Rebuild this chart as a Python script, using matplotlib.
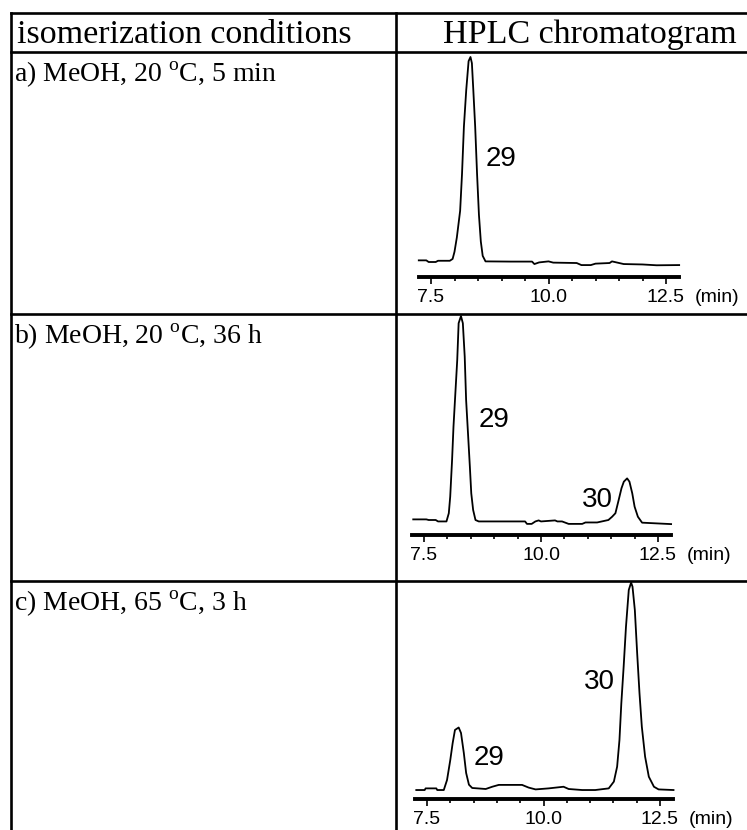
import matplotlib.pyplot as plt
from matplotlib.lines import Line2D
from matplotlib.ticker import FixedLocator, MultipleLocator, FormatStrFormatter

plt.rcParams['font.family'] = ['Liberation Serif', 'DejaVu Serif']
plt.rcParams['mathtext.fontset'] = 'custom'
plt.rcParams['mathtext.rm'] = 'Liberation Serif'

# figure size in pixels (dpi 100)
W, H = 747, 830

# table texts
header = ['isomerization conditions', 'HPLC chromatogram']
conditions = [r'a) MeOH, 20 $^{\rm o}$C, 5 min',
              r'b) MeOH, 20 $^{\rm o}$C, 36 h',
              r'c) MeOH, 65 $^{\rm o}$C, 3 h']

# chromatogram traces (retention time in min, relative signal)
time_a = [7.24, 7.40, 7.45, 7.60, 7.65, 7.90, 7.96, 8.00, 8.05, 8.12, 8.16, 8.20,
          8.25, 8.30, 8.34, 8.37, 8.40, 8.44, 8.48, 8.52, 8.56, 8.60, 8.66, 9.20,
          9.65, 9.70, 9.80, 10.00, 10.10, 10.60, 10.70, 10.90, 11.00, 11.30, 11.35,
          11.60, 12.00, 12.30, 12.78]
signal_a = [0.8, 0.8, 0.0, 0.0, 0.6, 0.6, 1.5, 5, 12, 25, 43, 66,
            84, 98, 100, 97, 84, 66, 43, 23, 10, 3, 0.3, 0.2,
            0.2, -1.0, -0.2, 0.3, -0.3, -0.5, -1.5, -1.5, -0.8, -0.5, 0.3,
            -1.0, -1.2, -1.6, -1.5]

time_b = [7.27, 7.55, 7.60, 7.75, 7.80, 7.98, 8.03, 8.06, 8.10, 8.13, 8.17, 8.21,
          8.24, 8.29, 8.33, 8.37, 8.40, 8.44, 8.48, 8.51, 8.55, 8.60, 8.67, 9.66,
          9.70, 9.80, 9.88, 9.95, 10.00, 10.30, 10.35, 10.45, 10.59, 10.88, 10.95,
          11.20, 11.44, 11.52, 11.59, 11.66, 11.72, 11.77, 11.84, 11.89, 11.95,
          12.00, 12.07, 12.16, 12.78]
signal_b = [0.3, 0.3, 0.0, 0.0, -0.7, -0.7, 3.3, 11.4, 29.3, 45.5, 61.8, 78,
            96, 99.5, 96, 79.7, 58.5, 42.3, 26, 13, 4.9, 0.0, -0.7, -0.7,
            -1.9, -1.9, -0.7, -0.2, -0.7, -0.2, -0.7, -0.7, -1.9, -1.9, -1.2,
            -1.2, 0.0, 1.6, 3.3, 9.8, 15.5, 18.7, 20.3, 18.7, 13,
            6.5, 1.6, -1.3, -2.0]

time_c = [7.27, 7.45, 7.47, 7.70, 7.72, 7.86, 7.93, 8.00, 8.05, 8.10, 8.18, 8.23,
          8.29, 8.34, 8.40, 8.47, 8.76, 8.90, 9.04, 9.54, 9.68, 9.83, 10.11, 10.43,
          10.54, 10.83, 11.11, 11.40, 11.51, 11.58, 11.63, 11.67, 11.72, 11.77,
          11.83, 11.88, 11.91, 11.96, 12.01, 12.06, 12.11, 12.18, 12.26, 12.37,
          12.47, 12.79]
signal_c = [-0.5, -0.5, 0.3, 0.3, -0.5, -0.5, 4.4, 14.2, 22.3, 28.8, 30, 27.3,
            17.6, 7.8, 2.1, 0.5, 0.0, 1.1, 2.0, 2.0, 0.7, -0.2, 0.3, 1.1,
            0.0, -0.5, -0.5, 0.3, 3.6, 10.9, 23.9, 41.8, 59.7, 79.2,
            97.1, 100.7, 98.7, 87.3, 66.2, 46.7, 30.4, 15.8, 6.0, 1.1,
            -0.2, -0.5]

traces = [(time_a, signal_a), (time_b, signal_b), (time_c, signal_c)]

# peak labels: (text, time, signal)
peak_labels = [
    [('29', 8.99, 50)],
    [('29', 9.00, 49), ('30', 11.20, 10)],
    [('30', 11.21, 52), ('29', 8.83, 15)],
]

major_ticks = [7.5, 10.0, 12.5]
x_range = (7.25, 12.78)

# layout in pixels, measured from the top-left corner
table_left, table_top = 11, 13
col_split = 396
row_lines = [52, 314, 581]
panel_x75 = [431, 424, 427]        # pixel of the 7.5 min tick
panel_ppm = [47.0, 46.8, 46.6]     # pixels per minute
panel_axis_y = [277, 535, 799]     # axis line
panel_base_y = [262, 520, 789]     # signal baseline
ppu = 2.05                         # pixels per signal unit


def fx(px):
    return px / W


def fy(py):
    return 1 - py / H


fig = plt.figure(figsize=(W / 100, H / 100), dpi=100)

# table grid
lw = 1.9
for y in [table_top] + row_lines:
    fig.add_artist(Line2D([fx(table_left), 1], [fy(y), fy(y)], color='black', lw=lw))
for x in [table_left, col_split]:
    fig.add_artist(Line2D([fx(x), fx(x)], [fy(table_top), 0], color='black', lw=lw))

# header and condition texts
fig.text(fx(17), fy(43), header[0], fontsize=24.5, va='baseline', ha='left')
fig.text(fx(590), fy(43), header[1], fontsize=24.5, va='baseline', ha='center')
for i, txt in enumerate(conditions):
    fig.text(fx(14), fy(row_lines[i] + 30), txt, fontsize=20, va='baseline', ha='left')

# chromatograms
for i, (t, s) in enumerate(traces):
    left = panel_x75[i] - (major_ticks[0] - x_range[0]) * panel_ppm[i]
    width = (x_range[1] - x_range[0]) * panel_ppm[i]
    top = row_lines[i] + 1
    ax = fig.add_axes([fx(left), fy(panel_axis_y[i]), fx(width),
                       (panel_axis_y[i] - top) / H])
    ax.set_xlim(*x_range)
    ax.set_ylim(-(panel_axis_y[i] - panel_base_y[i]) / ppu,
                (panel_base_y[i] - top) / ppu)
    ax.patch.set_visible(False)
    for side in ['left', 'right', 'top']:
        ax.spines[side].set_visible(False)
    ax.spines['bottom'].set_linewidth(2.8)
    ax.set_yticks([])
    ax.xaxis.set_major_locator(FixedLocator(major_ticks))
    ax.xaxis.set_minor_locator(MultipleLocator(0.5))
    ax.xaxis.set_major_formatter(FormatStrFormatter('%.1f'))
    ax.tick_params(axis='x', which='major', direction='out', length=5, width=1.2,
                   labelsize=14, pad=3.5)
    ax.tick_params(axis='x', which='minor', direction='out', length=3, width=1.2)
    for lab in ax.get_xticklabels():
        lab.set_fontfamily('Liberation Sans')
    ax.annotate('(min)', xy=(12.5, 0), xycoords=('data', 'axes fraction'),
                xytext=(21, -8.5), textcoords='offset points', ha='left', va='top',
                fontsize=14, family='Liberation Sans', annotation_clip=False)

    ax.plot(t, s, color='black', lw=1.3, clip_on=False)
    for name, lt, ls in peak_labels[i]:
        ax.text(lt, ls, name, fontsize=20, family='Liberation Sans',
                ha='center', va='center')

fig.savefig('out.png', dpi=100)
